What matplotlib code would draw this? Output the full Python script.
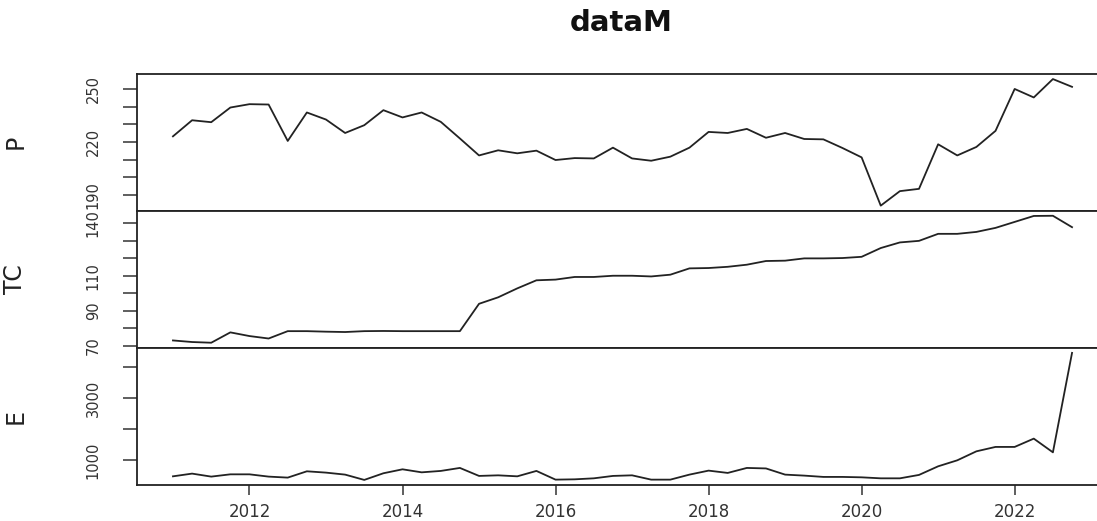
import numpy as np
import matplotlib.pyplot as plt

plt.rcParams['font.family'] = ['DejaVu Sans']

# 季度数据 2011Q1 - 2022Q4
years = np.arange(2011, 2023, 0.25)
P = [223.2, 232.3, 231.2, 239.5, 241.4, 241.2, 220.6, 236.7, 232.7, 225.1, 229.5, 238.0,
     233.9, 236.7, 231.4, 222.0, 212.4, 215.3, 213.6, 215.1, 209.8, 210.9, 210.7, 216.8,
     210.7, 209.4, 211.7, 216.8, 225.7, 225.1, 227.4, 222.4, 225.1, 221.7, 221.5, 216.6,
     211.3, 184.0, 192.2, 193.5, 218.7, 212.4, 217.2, 226.3, 250.0, 245.2, 255.6, 251.2]
TC = [73.0, 72.1, 71.7, 77.6, 75.5, 74.1, 78.3, 78.3, 78.0, 77.8, 78.3, 78.4,
      78.3, 78.3, 78.3, 78.3, 93.9, 97.6, 102.7, 107.3, 107.7, 109.2, 109.2, 109.9,
      109.9, 109.5, 110.5, 114.1, 114.3, 115.0, 116.2, 118.3, 118.5, 119.8, 119.8, 120.0,
      120.7, 125.7, 128.9, 129.8, 133.8, 133.8, 134.9, 137.2, 140.6, 144.0, 144.1, 137.6]
E = [487, 574, 478, 551, 551, 478, 446, 648, 606, 542, 372, 585,
     712, 615, 660, 756, 500, 519, 487, 660, 381, 391, 423, 500,
     519, 381, 381, 542, 670, 596, 756, 740, 542, 510, 468, 468,
     455, 423, 423, 532, 808, 1000, 1288, 1429, 1429, 1695, 1256, 4442]

names = ['P', 'TC', 'E']
series = [P, TC, E]
yticks = [np.arange(190, 251, 10), np.arange(70, 141, 10), np.arange(1000, 4001, 1000)]
ylabels = [[190, 220, 250], [70, 90, 110, 140], [1000, 3000]]
xticks = [2012, 2014, 2016, 2018, 2020, 2022]

fig = plt.figure(figsize=(10.97, 5.21), dpi=100)
left = 137 / 1097
width = 1108 / 1097 - left
tops = [74, 210.7, 347.8]
bottoms = [210.7, 347.8, 485]

for k in range(3):
    ax = fig.add_axes([left, 1 - bottoms[k] / 521, width, (bottoms[k] - tops[k]) / 521])
    ax.plot(years, series[k], color='#222222', lw=1.3)
    ax.margins(x=0.04, y=0.04)
    for s in ax.spines.values():
        s.set_linewidth(1.3)
        s.set_color('#222222')
    ax.set_yticks(yticks[k])
    ax.set_yticklabels([str(v) if v in ylabels[k] else '' for v in yticks[k]])
    ax.tick_params(axis='y', length=10, width=1.1, pad=16, labelsize=10.5, rotation=90,
                   color='#333333', labelcolor='#333333')
    for t in ax.get_yticklabels():
        t.set_va('center')
    ax.set_ylabel(names[k], fontsize=17, color='#222222')
    ax.yaxis.set_label_coords(-109.5 / (width * 1097), 0.5)
    if k < 2:
        ax.set_xticks([])
    else:
        ax.set_xticks(xticks)
        ax.tick_params(axis='x', length=7, width=1.1, pad=6, labelsize=12,
                       color='#333333', labelcolor='#333333')

fig.text(621.5 / 1097, 1 - 23 / 521, 'dataM', ha='center', va='center',
         fontsize=21, fontweight='bold', color='#111111')

plt.savefig('out.png', dpi=100)
